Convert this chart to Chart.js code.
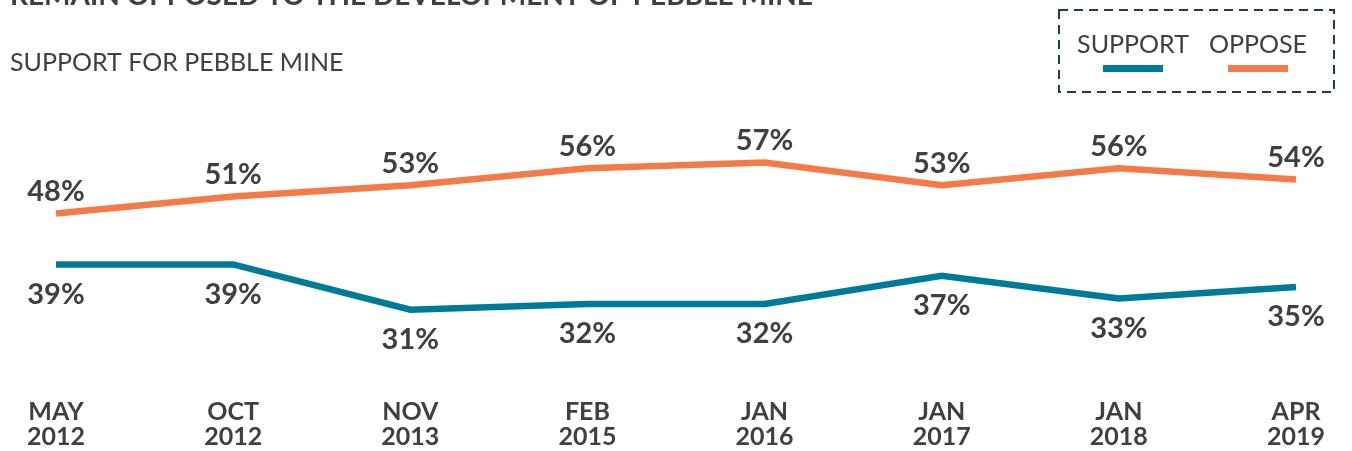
<!DOCTYPE html>
<html><head><meta charset="utf-8">
<script src="https://cdn.jsdelivr.net/npm/chart.js@4/dist/chart.umd.min.js"></script>
<style>html,body{margin:0;padding:0;background:#fff;overflow:hidden;}#wrap{width:1352px;height:451px;position:relative;}</style>
</head><body><div id="wrap"><canvas id="c" width="1352" height="451"></canvas></div>
<script>
const categories = [["MAY","2012"],["OCT","2012"],["NOV","2013"],["FEB","2015"],["JAN","2016"],["JAN","2017"],["JAN","2018"],["APR","2019"]];
const supportValues = [39,39,31,32,32,37,33,35];
const opposeValues = [48,51,53,56,57,53,56,54];
const seriesNames = ["SUPPORT","OPPOSE"];
const seriesColors = ["#007a99","#f47a48"];
const titleText = "REMAIN OPPOSED TO THE DEVELOPMENT OF PEBBLE MINE";
const subtitleText = "SUPPORT FOR PEBBLE MINE";

const TEXT = "#404040";
const FONT = "Lato, 'Open Sans', sans-serif";

const headerPlugin = {
  id: 'header',
  afterDraw(chart) {
    const ctx = chart.ctx;
    ctx.save();
    ctx.fillStyle = TEXT;
    ctx.textAlign = 'left';
    ctx.textBaseline = 'alphabetic';
    ctx.font = "bold 28px " + FONT;
    ctx.fillText(titleText, 10, 5);
    ctx.font = "25px " + FONT;
    ctx.fillText(subtitleText, 10, 71);
    ctx.restore();
  }
};

const boxLegendPlugin = {
  id: 'boxLegend',
  afterDraw(chart) {
    const ctx = chart.ctx;
    ctx.save();
    ctx.strokeStyle = "#1d3d57";
    ctx.lineWidth = 2;
    ctx.setLineDash([9, 6]);
    ctx.strokeRect(1059, 10, 275, 82);
    ctx.setLineDash([]);
    const centers = [1133, 1258];
    chart.data.datasets.forEach((ds, i) => {
      ctx.fillStyle = TEXT;
      ctx.font = "25px " + FONT;
      ctx.textAlign = 'center';
      ctx.textBaseline = 'alphabetic';
      ctx.fillText(ds.label, centers[i], 53);
      ctx.fillStyle = ds.borderColor;
      ctx.fillRect(centers[i] - 30, 65, 60, 7);
    });
    ctx.restore();
  }
};

const valueLabelPlugin = {
  id: 'valueLabels',
  afterDatasetsDraw(chart) {
    const ctx = chart.ctx;
    ctx.save();
    ctx.fillStyle = TEXT;
    ctx.font = "bold 29px " + FONT;
    ctx.textAlign = 'center';
    ctx.textBaseline = 'middle';
    chart.data.datasets.forEach((ds, i) => {
      const meta = chart.getDatasetMeta(i);
      const off = ds.labelOffset;
      meta.data.forEach((pt, j) => {
        ctx.fillText(ds.data[j] + '%', pt.x, pt.y + off);
      });
    });
    ctx.restore();
  }
};

new Chart(document.getElementById('c'), {
  type: 'line',
  data: {
    labels: categories,
    datasets: [
      { label: seriesNames[0], data: supportValues, borderColor: seriesColors[0], backgroundColor: seriesColors[0], borderWidth: 6.5, pointRadius: 0, tension: 0, labelOffset: 30 },
      { label: seriesNames[1], data: opposeValues, borderColor: seriesColors[1], backgroundColor: seriesColors[1], borderWidth: 6.5, pointRadius: 0, tension: 0, labelOffset: -22 }
    ]
  },
  options: {
    responsive: false,
    animation: false,
    layout: { padding: { left: 56, right: 55, top: 89, bottom: -25 } },
    plugins: { legend: { display: false }, title: { display: false }, tooltip: { enabled: false } },
    scales: {
      x: {
        offset: false,
        grid: { display: false, drawTicks: false },
        border: { display: false },
        ticks: { color: TEXT, font: { family: FONT, size: 25, weight: 'bold', lineHeight: 1.0 }, padding: 27, maxRotation: 0, autoSkip: false }
      },
      y: { display: false, min: 20, max: 70 }
    }
  },
  plugins: [headerPlugin, boxLegendPlugin, valueLabelPlugin]
});
</script>
</body></html>
